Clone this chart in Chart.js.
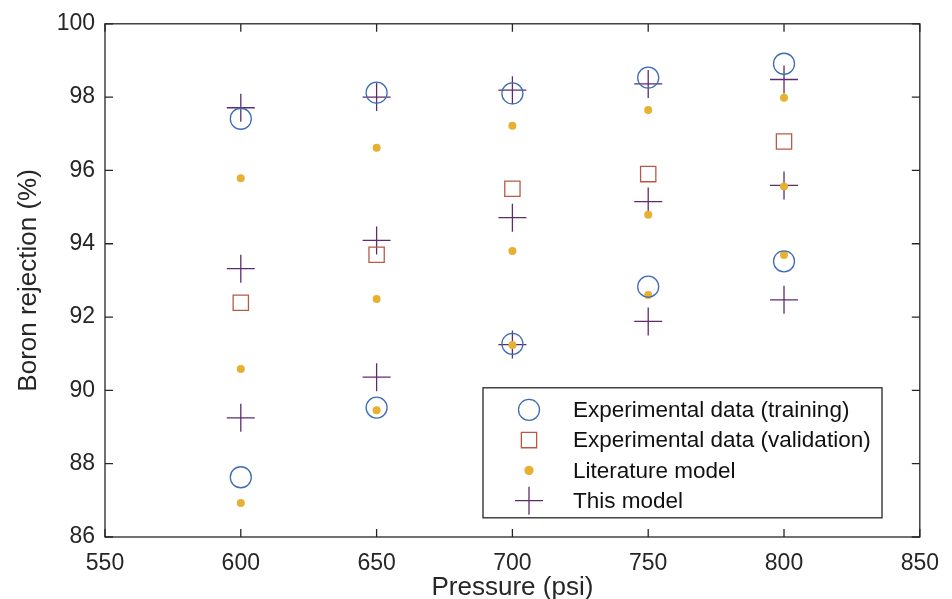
<!DOCTYPE html>
<html>
<head>
<meta charset="utf-8">
<script src="https://cdn.jsdelivr.net/npm/chart.js@4.4.1/dist/chart.umd.min.js"></script>
<style>
  html, body { margin: 0; padding: 0; background: #fff; }
  #wrap { width: 952px; height: 599px; }
</style>
</head>
<body>
<div id="wrap"><canvas id="boronChart"></canvas></div>
<script>
// pressure values (psi)
const pressures = [600, 650, 700, 750, 800];

// experimental data (training) - two runs per pressure
const trainingHigh = [97.41, 98.12, 98.10, 98.53, 98.91];
const trainingLow = [87.63, 89.53, 91.27, 92.83, 93.52];

// experimental data (validation)
const validation = [92.39, 93.70, 95.50, 95.90, 96.79];

// literature model
const literatureHigh = [95.79, 96.62, 97.22, 97.65, 97.98];
const literatureMid = [90.58, 92.49, 93.80, 94.79, 95.56];
const literatureLow = [86.93, 89.46, 91.24, 92.60, 93.69];

// this model
const modelHigh = [97.71, 98.00, 98.19, 98.36, 98.48];
const modelMid = [93.32, 94.09, 94.71, 95.15, 95.59];
const modelLow = [89.25, 90.36, 91.25, 91.88, 92.47];

const xTicks = [550, 600, 650, 700, 750, 800, 850];
const yTicks = [86, 88, 90, 92, 94, 96, 98, 100];

const toPoints = (...series) =>
  series.flatMap((s) => s.map((v, i) => ({ x: pressures[i], y: v })));

const axisColor = "#262626";
const fontFamily = "'Liberation Sans', Arial, sans-serif";

// MATLAB style box with inward ticks + legend inside the axes
const matlabBox = {
  id: "matlabBox",
  afterDatasetsDraw(chart) {
    const { ctx, chartArea: a, scales } = chart;
    ctx.save();
    ctx.strokeStyle = axisColor;
    ctx.lineWidth = 1.3;
    ctx.strokeRect(a.left, a.top, a.right - a.left, a.bottom - a.top);
    ctx.beginPath();
    xTicks.forEach((t) => {
      const px = scales.x.getPixelForValue(t);
      ctx.moveTo(px, a.bottom); ctx.lineTo(px, a.bottom - 8);
      ctx.moveTo(px, a.top); ctx.lineTo(px, a.top + 8);
    });
    yTicks.forEach((t) => {
      const py = scales.y.getPixelForValue(t);
      ctx.moveTo(a.left, py); ctx.lineTo(a.left + 8, py);
      ctx.moveTo(a.right, py); ctx.lineTo(a.right - 8, py);
    });
    ctx.stroke();

    // legend
    const bx = a.left + 378, by = a.top + 364, bw = 399, bh = 130;
    ctx.fillStyle = "#fff";
    ctx.fillRect(bx, by, bw, bh);
    ctx.strokeRect(bx, by, bw, bh);
    ctx.font = "22.5px " + fontFamily;
    ctx.textBaseline = "middle";
    chart.data.datasets.forEach((ds, row) => {
      const cy = by + 22 + row * 30.3;
      ctx.strokeStyle = ds.borderColor;
      ctx.fillStyle = ds.backgroundColor;
      ctx.lineWidth = 1.3;
      Chart.helpers.drawPoint(ctx, {
        pointStyle: ds.pointStyle,
        radius: ds.pointRadius,
        borderWidth: 1.3,
      }, bx + 46, cy);
      ctx.fillStyle = "#111";
      ctx.fillText(ds.label, bx + 90, cy + 1);
    });
    ctx.restore();
  },
};

const blue = "#3f6db5";
const red = "#b85a43";
const yellow = "#e8b030";
const purple = "#5d2c6e";

const ctx = document.getElementById("boronChart").getContext("2d");
const boronChart = new Chart(ctx, {
  type: "scatter",
  data: {
    datasets: [
      {
        label: "Experimental data (training)",
        data: toPoints(trainingHigh, trainingLow),
        pointStyle: "circle",
        pointRadius: 10.5,
        borderColor: blue,
        backgroundColor: "rgba(0,0,0,0)",
        borderWidth: 1.3,
      },
      {
        label: "Experimental data (validation)",
        data: toPoints(validation),
        pointStyle: "rect",
        pointRadius: 10.8,
        borderColor: red,
        backgroundColor: "rgba(0,0,0,0)",
        borderWidth: 1.3,
      },
      {
        label: "Literature model",
        data: toPoints(literatureHigh, literatureMid, literatureLow),
        pointStyle: "circle",
        pointRadius: 4,
        borderColor: yellow,
        backgroundColor: yellow,
        borderWidth: 0,
      },
      {
        label: "This model",
        data: toPoints(modelHigh, modelMid, modelLow),
        pointStyle: "cross",
        pointRadius: 14,
        borderColor: purple,
        backgroundColor: purple,
        borderWidth: 1.3,
      },
    ],
  },
  options: {
    responsive: true,
    maintainAspectRatio: false,
    animation: false,
    layout: { padding: { top: 17, right: 22, left: 0, bottom: 0 } },
    plugins: { legend: { display: false }, tooltip: { enabled: false } },
    scales: {
      x: {
        type: "linear",
        min: 550,
        max: 850,
        afterBuildTicks: (scale) => { scale.ticks = xTicks.map((v) => ({ value: v })); },
        afterFit: (scale) => { scale.height = 62; },
        grid: { display: false, drawTicks: false },
        border: { display: false },
        ticks: { color: axisColor, font: { family: fontFamily, size: 23 }, padding: 13, maxRotation: 0 },
        title: {
          display: true,
          text: "Pressure (psi)",
          color: axisColor,
          font: { family: fontFamily, size: 26 },
          padding: { top: 0, bottom: -4 },
        },
      },
      y: {
        type: "linear",
        min: 86,
        max: 100,
        afterBuildTicks: (scale) => { scale.ticks = yTicks.map((v) => ({ value: v })); },
        afterFit: (scale) => { scale.width = 105; },
        grid: { display: false, drawTicks: false },
        border: { display: false },
        ticks: { color: axisColor, font: { family: fontFamily, size: 23 }, padding: 10 },
        title: {
          display: true,
          text: "Boron rejection (%)",
          color: axisColor,
          font: { family: fontFamily, size: 26 },
          padding: { top: 13, bottom: 0 },
        },
      },
    },
  },
  plugins: [matlabBox],
});
</script>
</body>
</html>
